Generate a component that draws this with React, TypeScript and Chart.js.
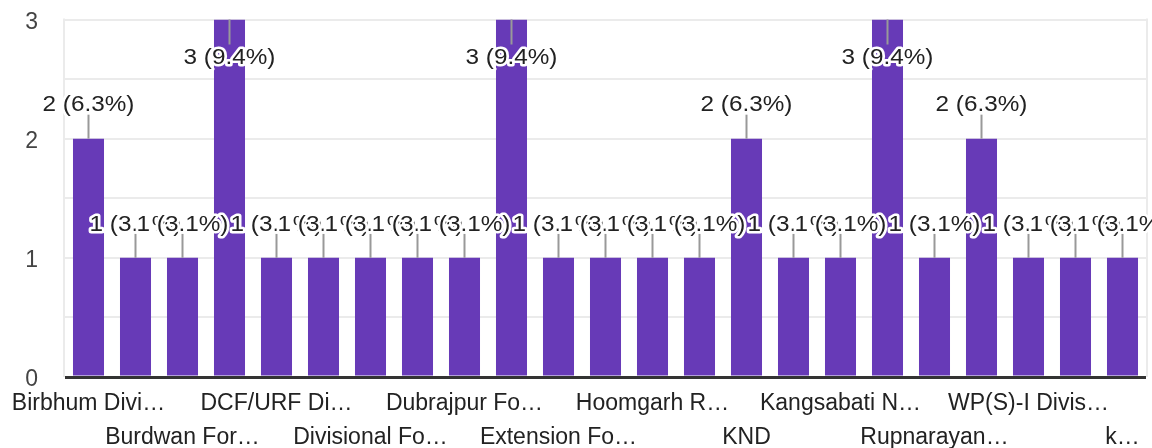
import { useEffect, useRef } from "react";
import { Chart, registerables } from "chart.js";

Chart.register(...registerables);

const categories: string[] = [
  "Birbhum Divi…",
  "Bolpur Rang…",
  "Burdwan For…",
  "Cooch Behar…",
  "DCF/URF Di…",
  "Darjeeling D…",
  "Divisional Fo…",
  "Drought Pro…",
  "Dubrajpur Fo…",
  "Durgapur Fo…",
  "Extension Fo…",
  "Hijli Range",
  "Hoomgarh R…",
  "Jhargram Div…",
  "KND",
  "Kalimpong D…",
  "Kangsabati N…",
  "Kangsabati S…",
  "Rupnarayan…",
  "Sundarban Bi…",
  "WP(S)-I Divis…",
  "Wildlife Div…",
  "k…",
];

const counts: number[] = [2, 1, 1, 3, 1, 1, 1, 1, 1, 3, 1, 1, 1, 1, 2, 1, 1, 3, 1, 2, 1, 1, 1];

const yTickLabels: number[] = [0, 1, 2, 3];

const total = counts.reduce((a, b) => a + b, 0);

const FONT = "Arial, 'Liberation Sans', sans-serif";
const BAR = "#673ab7";
const GRID = "#ebebeb";

const framePlugin = {
  id: "frame",
  beforeDatasetsDraw(chart: any) {
    const { ctx, chartArea } = chart;
    ctx.save();
    ctx.strokeStyle = GRID;
    ctx.lineWidth = 2;
    ctx.beginPath();
    ctx.moveTo(chartArea.left - 1, chartArea.top - 1);
    ctx.lineTo(chartArea.left - 1, chartArea.bottom);
    ctx.moveTo(chartArea.right + 1, chartArea.top - 1);
    ctx.lineTo(chartArea.right + 1, chartArea.bottom);
    ctx.stroke();
    ctx.restore();
  },
};

const labelPlugin = {
  id: "barLabels",
  afterDatasetsDraw(chart: any) {
    const { ctx, chartArea } = chart;
    const meta = chart.getDatasetMeta(0);
    const items = meta.data.map((bar: any, i: number) => {
      const v = counts[i];
      const text = `${v} (${((v / total) * 100).toFixed(1)}%)`;
      const x = bar.x;
      const top = bar.y;
      const inside = top - 50 < chartArea.top;
      return {
        text,
        x,
        l1: inside ? top : top - 24,
        l2: inside ? top + 25 : top,
        ty: inside ? top + 38 : top - 33.5,
      };
    });
    ctx.save();
    ctx.strokeStyle = "#999999";
    ctx.lineWidth = 2;
    items.forEach((it: any) => {
      ctx.beginPath();
      ctx.moveTo(it.x, it.l1);
      ctx.lineTo(it.x, it.l2);
      ctx.stroke();
    });
    ctx.font = `22.5px ${FONT}`;
    ctx.textAlign = "center";
    ctx.textBaseline = "middle";
    ctx.lineJoin = "round";
    items.forEach((it: any) => {
      ctx.save();
      ctx.translate(it.x, it.ty);
      ctx.scale(1.08, 1);
      ctx.strokeStyle = "#ffffff";
      ctx.lineWidth = 5;
      ctx.strokeText(it.text, 0, 0);
      ctx.fillStyle = "#222222";
      ctx.fillText(it.text, 0, 0);
      ctx.restore();
    });
    ctx.restore();
  },
};

export default function App() {
  const ref = useRef<HTMLCanvasElement | null>(null);

  useEffect(() => {
    if (!ref.current) return;
    const chart = new Chart(ref.current, {
      type: "bar",
      data: {
        labels: categories,
        datasets: [
          {
            data: counts,
            backgroundColor: BAR,
            borderWidth: 0,
            barPercentage: 0.66,
            categoryPercentage: 1,
          },
        ],
      },
      options: {
        animation: false,
        responsive: true,
        maintainAspectRatio: false,
        layout: { padding: { top: 19.5, right: 6, left: 0, bottom: 0 } },
        plugins: {
          legend: { display: false },
          tooltip: { enabled: false },
        },
        scales: {
          x: {
            grid: { display: false, drawTicks: false },
            border: { display: false },
            ticks: {
              autoSkip: false,
              maxRotation: 0,
              minRotation: 0,
              padding: 10,
              color: "#222222",
              font: { family: FONT, size: 23, lineHeight: "34px" },
              callback: (_v: any, index: number) => {
                if (index % 2 === 1) return "";
                const label = categories[index];
                return (index / 2) % 2 === 1 ? ["", label] : label;
              },
            },
            afterFit: (s: any) => {
              s.height = 71;
              s.paddingLeft = 0;
              s.paddingRight = 0;
              s.paddingTop = 0;
              s.paddingBottom = 0;
            },
          },
          y: {
            min: 0,
            max: 3,
            border: { display: false },
            grid: {
              drawTicks: false,
              color: (c: any) => (c.tick && c.tick.value === 0 ? "#333333" : GRID),
              lineWidth: (c: any) => (c.tick && c.tick.value === 0 ? 3 : 2),
            },
            ticks: {
              stepSize: 0.5,
              padding: 27,
              labelOffset: 3,
              color: "#444444",
              font: { family: FONT, size: 23 },
              callback: (v: any) => (yTickLabels.includes(Number(v)) ? String(v) : ""),
            },
            afterFit: (s: any) => {
              s.width = 65;
              s.paddingLeft = 0;
              s.paddingRight = 0;
              s.paddingTop = 0;
              s.paddingBottom = 0;
            },
          },
        },
      },
      plugins: [framePlugin, labelPlugin],
    });
    return () => chart.destroy();
  }, []);

  return (
    <div style={{ position: "fixed", left: 0, top: 0, width: 1152, height: 448, background: "#fff" }}>
      <canvas ref={ref} />
    </div>
  );
}
